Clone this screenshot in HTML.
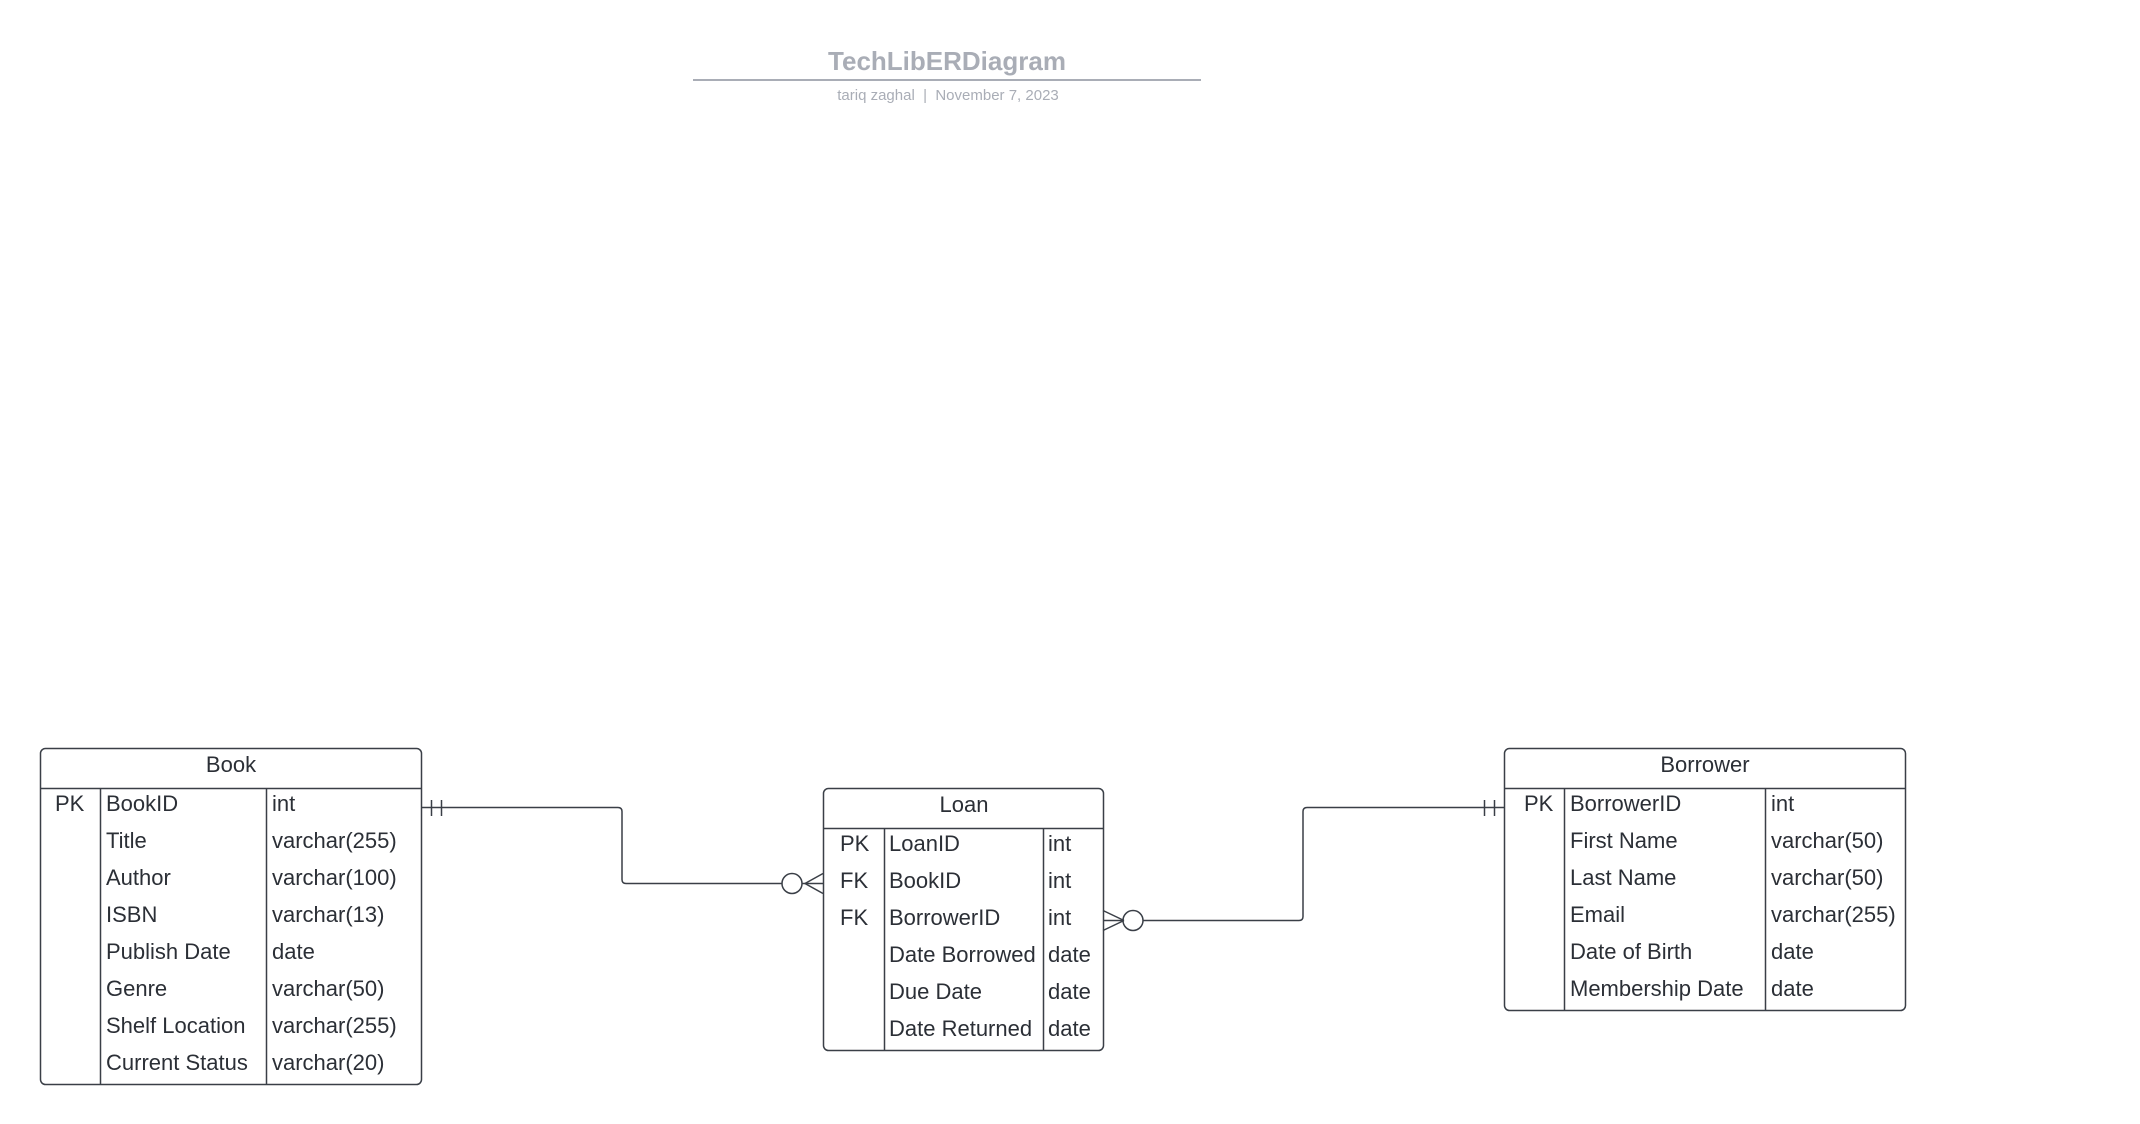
<!DOCTYPE html>
<html><head><meta charset="utf-8"><style>
html,body{margin:0;padding:0;background:#fff;}
svg{display:block;}
text{font-family:"Liberation Sans",sans-serif;fill:#2b2f36;}
</style></head><body>
<svg width="2140" height="1124" viewBox="0 0 2140 1124" xmlns="http://www.w3.org/2000/svg">
<g>
<text x="947" y="70" font-size="26" font-weight="bold" text-anchor="middle" style="fill:#a9adb6">TechLibERDiagram</text>
<line x1="693" y1="80" x2="1201" y2="80" stroke="#a9adb6" stroke-width="2"/>
<text x="948" y="100" font-size="15" text-anchor="middle" style="fill:#a9adb6;white-space:pre" xml:space="preserve">tariq zaghal  |  November 7, 2023</text>
</g>
<g fill="none" stroke="#3a3f47" stroke-width="1.5">
<rect x="40.5" y="748.5" width="381" height="336" rx="5"/>
<line x1="40" y1="788.5" x2="421" y2="788.5"/>
<line x1="100.5" y1="788" x2="100.5" y2="1084"/>
<line x1="266.5" y1="788" x2="266.5" y2="1084"/>
<rect x="823.5" y="788.5" width="280" height="262" rx="5"/>
<line x1="823" y1="828.5" x2="1103" y2="828.5"/>
<line x1="884.5" y1="828" x2="884.5" y2="1050"/>
<line x1="1043.5" y1="828" x2="1043.5" y2="1050"/>
<rect x="1504.5" y="748.5" width="401" height="262" rx="5"/>
<line x1="1504" y1="788.5" x2="1905" y2="788.5"/>
<line x1="1564.5" y1="788" x2="1564.5" y2="1010"/>
<line x1="1765.5" y1="788" x2="1765.5" y2="1010"/>
<path d="M421 807.5 H618 Q622 807.5 622 811.5 V879.5 Q622 883.5 626 883.5 H782"/>
<line x1="431.5" y1="800" x2="431.5" y2="816"/>
<line x1="441.5" y1="800" x2="441.5" y2="816"/>
<circle cx="792" cy="883.5" r="10"/>
<line x1="802" y1="883.5" x2="823" y2="883.5"/>
<line x1="805" y1="883.5" x2="823" y2="873.5"/>
<line x1="805" y1="883.5" x2="823" y2="893.5"/>
<path d="M1143 920.5 H1299 Q1303 920.5 1303 916.5 V811.5 Q1303 807.5 1307 807.5 H1504"/>
<circle cx="1133" cy="920.5" r="10"/>
<line x1="1103" y1="920.5" x2="1123" y2="920.5"/>
<line x1="1103" y1="910.5" x2="1124" y2="920.5"/>
<line x1="1103" y1="930.5" x2="1124" y2="920.5"/>
<line x1="1484.5" y1="800" x2="1484.5" y2="816"/>
<line x1="1494.5" y1="800" x2="1494.5" y2="816"/>
</g>
<g font-size="22">
<text x="231" y="772" text-anchor="middle">Book</text>
<text x="55" y="811">PK</text>
<text x="106" y="811">BookID</text><text x="272" y="811">int</text>
<text x="106" y="848">Title</text><text x="272" y="848">varchar(255)</text>
<text x="106" y="885">Author</text><text x="272" y="885">varchar(100)</text>
<text x="106" y="922">ISBN</text><text x="272" y="922">varchar(13)</text>
<text x="106" y="959">Publish Date</text><text x="272" y="959">date</text>
<text x="106" y="996">Genre</text><text x="272" y="996">varchar(50)</text>
<text x="106" y="1033">Shelf Location</text><text x="272" y="1033">varchar(255)</text>
<text x="106" y="1070">Current Status</text><text x="272" y="1070">varchar(20)</text>

<text x="964" y="812" text-anchor="middle">Loan</text>
<text x="840" y="851">PK</text><text x="889" y="851">LoanID</text><text x="1048" y="851">int</text>
<text x="840" y="888">FK</text><text x="889" y="888">BookID</text><text x="1048" y="888">int</text>
<text x="840" y="925">FK</text><text x="889" y="925">BorrowerID</text><text x="1048" y="925">int</text>
<text x="889" y="962">Date Borrowed</text><text x="1048" y="962">date</text>
<text x="889" y="999">Due Date</text><text x="1048" y="999">date</text>
<text x="889" y="1036">Date Returned</text><text x="1048" y="1036">date</text>

<text x="1705" y="772" text-anchor="middle">Borrower</text>
<text x="1524" y="811">PK</text><text x="1570" y="811">BorrowerID</text><text x="1771" y="811">int</text>
<text x="1570" y="848">First Name</text><text x="1771" y="848">varchar(50)</text>
<text x="1570" y="885">Last Name</text><text x="1771" y="885">varchar(50)</text>
<text x="1570" y="922">Email</text><text x="1771" y="922">varchar(255)</text>
<text x="1570" y="959">Date of Birth</text><text x="1771" y="959">date</text>
<text x="1570" y="996">Membership Date</text><text x="1771" y="996">date</text>
</g>
</svg>
</body></html>
